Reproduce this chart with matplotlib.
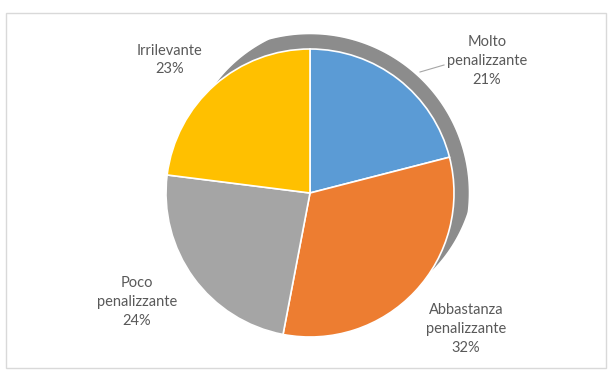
import numpy as np
import matplotlib.pyplot as plt
from matplotlib.patches import Polygon, Rectangle

labels = ["Molto\npenalizzante", "Abbastanza\npenalizzante", "Poco\npenalizzante", "Irrilevante"]
shares = [21, 32, 24, 23]
colors = ["#5B9BD5", "#ED7D31", "#A5A5A5", "#FFC000"]

W, H = 610, 370
fig = plt.figure(figsize=(W / 100, H / 100), dpi=100)
ax = fig.add_axes([0, 0, 1, 1])

# chart border
ax.add_patch(Rectangle((6, 2), 600, 355, fill=False, edgecolor="#d9d9d9", lw=1))

cx, cy, r = 310, 177, 144

# grey rim behind the upper-right part of the pie, tapering at both ends
phi = np.radians(np.linspace(-32, 130, 200))
t = np.clip(np.minimum(phi - phi[0], phi[-1] - phi) / np.radians(25), 0, 1) * 14
outer = np.column_stack([cx + (r + t) * np.cos(phi), cy + (r + t) * np.sin(phi)])
inner = np.column_stack([cx + (r - 2) * np.cos(phi[::-1]), cy + (r - 2) * np.sin(phi[::-1])])
ax.add_patch(Polygon(np.vstack([outer, inner]), closed=True, color="#8c8c8c", zorder=1))

wedges, _ = ax.pie(shares, colors=colors, startangle=90, counterclock=False,
                   center=(cx, cy), radius=r, frame=True,
                   wedgeprops=dict(edgecolor="white", linewidth=1.2))
for w in wedges:
    w.set_zorder(2)
ax.set_xlim(0, W)
ax.set_ylim(0, H)
ax.set_aspect("equal")
ax.axis("off")

label_pos = [(487, 309), (466, 41), (137, 68), (170, 310)]
for lab, val, (x, y) in zip(labels, shares, label_pos):
    ax.text(x, y, f"{lab}\n{val}%", ha="center", va="center", fontsize=10.5,
            color="#595959", family="Lato", linespacing=1.42, zorder=3)

# leader line for the first label
ax.plot([420, 444], [298, 305], color="#a6a6a6", lw=0.8, zorder=3)

fig.savefig("out.png", dpi=100)
